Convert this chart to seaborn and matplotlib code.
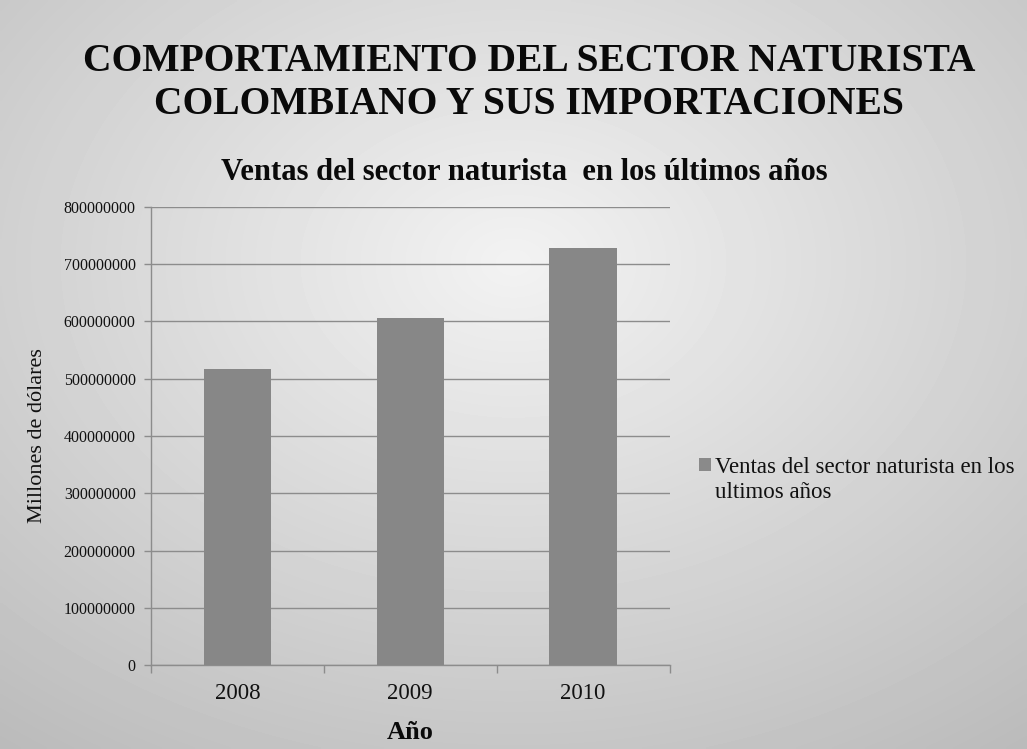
import numpy as np
import pandas as pd
import matplotlib
matplotlib.use("Agg")
import matplotlib.pyplot as plt
from matplotlib.patches import Patch
import seaborn as sns

# -----------------------------
# Datos
# -----------------------------
anios = ["2008", "2009", "2010"]
ventas = [516000000, 606000000, 728000000]
y_ticks = [0, 100000000, 200000000, 300000000, 400000000,
           500000000, 600000000, 700000000, 800000000]
serie_l1 = "Ventas del sector naturista en los"
serie_l2 = "ultimos años"

df = pd.DataFrame({"Año": anios, "Ventas": ventas})

sns.set_theme(style="white")
serif = ["Liberation Serif", "DejaVu Serif"]
plt.rcParams["font.family"] = serif

fig = plt.figure(figsize=(10.27, 7.49), dpi=100)

# fondo gris con degradado
bg = fig.add_axes([0, 0, 1, 1], zorder=-10)
yy, xx = np.mgrid[0:1:200j, 0:1:280j]
r = np.sqrt(((xx - 0.5) / 0.9) ** 2 + ((yy - 0.35) / 0.9) ** 2)
grad = 0.95 - 0.24 * r
bg.imshow(grad, cmap="gray", vmin=0, vmax=1, aspect="auto",
          extent=[0, 1, 0, 1], interpolation="bilinear")
bg.axis("off")

fig.text(0.515, 0.889, "COMPORTAMIENTO DEL SECTOR NATURISTA\nCOLOMBIANO Y SUS IMPORTACIONES",
         ha="center", va="center", fontsize=28.5, fontweight="bold",
         family=serif, color="#0a0a0a", linespacing=1.2)

fig.text(0.511, 0.770, "Ventas del sector naturista  en los últimos años",
         ha="center", va="center", fontsize=22, fontweight="bold",
         family=serif, color="#0a0a0a")

ax = fig.add_axes([0.147, 0.112, 0.505, 0.612])
ax.patch.set_alpha(0)

sns.barplot(data=df, x="Año", y="Ventas", color="#878787", width=0.39,
            saturation=1, linewidth=0, ax=ax, zorder=3)

ax.set_ylim(0, 800000000)
ax.set_xlim(-0.5, 2.5)
ax.set_yticks(y_ticks)
ax.set_yticklabels([str(v) for v in y_ticks], fontsize=11.5, color="#111111")
ax.yaxis.grid(True, color="#8c8c8c", linewidth=1)
ax.set_axisbelow(True)

ax.set_xticks(range(len(anios)))
ax.set_xticklabels(anios, fontsize=16.5, color="#111111")
ax.set_xticks([-0.5, 0.5, 1.5, 2.5], minor=True)
ax.tick_params(axis="x", which="major", bottom=False, length=0, pad=13)
ax.tick_params(axis="x", which="minor", bottom=True, length=6, color="#8c8c8c",
               width=1, direction="out")
ax.tick_params(axis="y", left=True, length=5, color="#8c8c8c", width=1,
               direction="out", pad=6)

for side in ["top", "right"]:
    ax.spines[side].set_visible(False)
for side in ["left", "bottom"]:
    ax.spines[side].set_color("#8c8c8c")
    ax.spines[side].set_linewidth(1)

ax.set_xlabel("Año", fontsize=19, fontweight="bold", labelpad=12, color="#0a0a0a")
ax.set_ylabel("Millones de dólares", fontsize=16, labelpad=12, color="#111111")

handle = Patch(facecolor="#8a8a8a", edgecolor="none")
fig.legend([handle], [serie_l1], loc="center left", bbox_to_anchor=(0.681, 0.376),
           frameon=False, fontsize=16.5, handlelength=0.5, handleheight=0.5,
           handletextpad=0.2, borderaxespad=0, borderpad=0,
           labelcolor="#111111")
fig.text(0.696, 0.342, serie_l2, ha="left", va="center", fontsize=16.5, color="#111111")

fig.savefig("out.png", dpi=100)
